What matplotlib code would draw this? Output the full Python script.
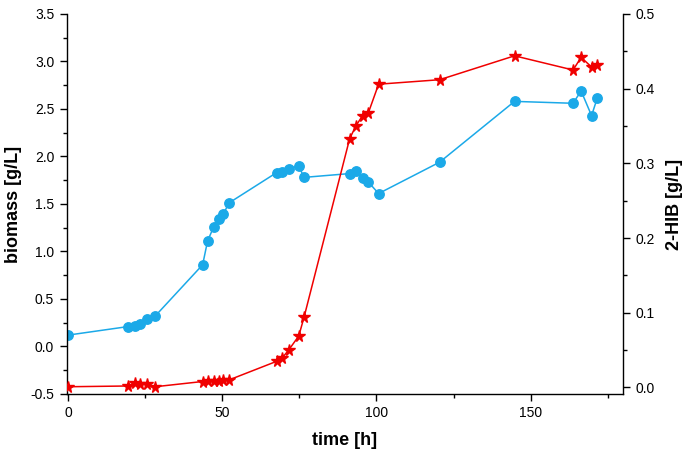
import matplotlib.pyplot as plt
from matplotlib.ticker import MultipleLocator

plt.rcParams['font.family'] = ['Liberation Sans', 'DejaVu Sans']

# sampling times [h]
time_h = [0, 19.5, 21.5, 23.3, 25.7, 28.2, 43.6, 45.2, 47.2, 48.8, 50.3, 52.1,
          67.6, 69.5, 71.5, 74.8, 76.5, 91.3, 93.3, 95.5, 97.4, 100.7,
          120.5, 144.8, 163.8, 166.4, 169.8, 171.7]

# biomass [g/L]
biomass = [0.12, 0.21, 0.22, 0.24, 0.29, 0.32, 0.86, 1.11, 1.26, 1.34, 1.39, 1.51,
           1.83, 1.84, 1.87, 1.90, 1.78, 1.82, 1.85, 1.77, 1.73, 1.61,
           1.94, 2.58, 2.56, 2.69, 2.43, 2.62]

# 2-HIB [g/L]
hib = [0.001, 0.002, 0.006, 0.005, 0.004, 0.001, 0.008, 0.009, 0.009, 0.009, 0.010, 0.010,
       0.035, 0.040, 0.050, 0.069, 0.094, 0.333, 0.350, 0.364, 0.368, 0.406,
       0.412, 0.444, 0.425, 0.442, 0.429, 0.432]

blue = '#1BA9E8'
red = '#F00000'

fig = plt.figure(figsize=(6.85, 4.57), dpi=100)
ax = fig.add_axes([0.0974, 0.1379, 0.8121, 0.8315])
ax.plot(time_h, biomass, color=blue, lw=1.1, marker='o', ms=6.8, mec=blue, mfc=blue)

ax2 = ax.twinx()
ax2.plot(time_h, hib, color=red, lw=1.1, marker='*', ms=8.5, mec=red, mfc=red)

ax.set_xlim(-0.5, 180)
ax.set_ylim(-0.5, 3.5)
ax2.set_ylim(-0.0087, 0.5)

ax.xaxis.set_major_locator(MultipleLocator(50))
ax.xaxis.set_minor_locator(MultipleLocator(25))
ax.yaxis.set_major_locator(MultipleLocator(0.5))
ax.yaxis.set_minor_locator(MultipleLocator(0.25))
ax2.yaxis.set_major_locator(MultipleLocator(0.1))
ax2.yaxis.set_minor_locator(MultipleLocator(0.05))

for a in (ax, ax2):
    a.spines['top'].set_visible(False)
    for s in a.spines.values():
        s.set_linewidth(1.0)
    a.tick_params(which='major', direction='out', length=5, width=1.0, labelsize=10, pad=4)
    a.tick_params(which='minor', direction='out', length=3, width=1.0)
ax.spines['right'].set_visible(False)
ax2.spines['left'].set_visible(False)
ax2.spines['bottom'].set_visible(False)

ax.set_yticks([-0.5, 0.0, 0.5, 1.0, 1.5, 2.0, 2.5, 3.0, 3.5])
ax.set_yticklabels(['-0.5', '0.0', '0.5', '1.0', '1.5', '2.0', '2.5', '3.0', '3.5'])
ax2.set_yticks([0.0, 0.1, 0.2, 0.3, 0.4, 0.5])
ax2.set_yticklabels(['0.0', '0.1', '0.2', '0.3', '0.4', '0.5'])

ax.set_xlabel('time [h]', fontsize=13, fontweight='bold', labelpad=8)
ax.set_ylabel('biomass [g/L]', fontsize=13, fontweight='bold', labelpad=6)
ax2.set_ylabel('2-HIB [g/L]', fontsize=13, fontweight='bold', labelpad=8)

fig.savefig('out.png', dpi=100)
